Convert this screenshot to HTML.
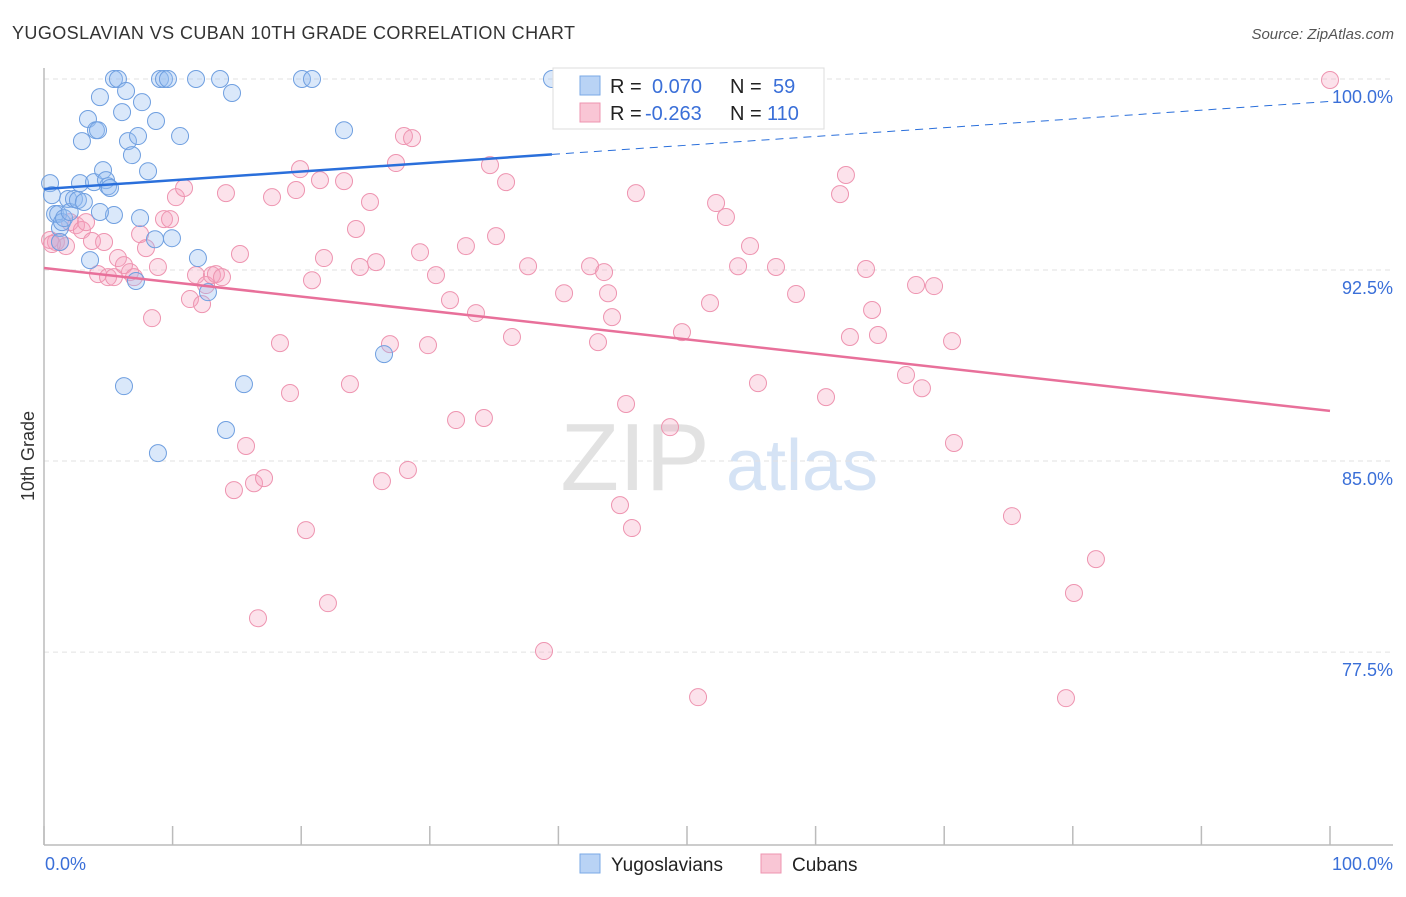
<!DOCTYPE html>
<html><head><meta charset="utf-8">
<style>
body{margin:0;background:#fff;font-family:"Liberation Sans",sans-serif;}
#wrap{position:relative;width:1406px;height:892px;}
svg text{font-family:"Liberation Sans",sans-serif;}
</style></head>
<body>
<div id="wrap">
<svg id="chart" width="1406" height="892">
<text x="12" y="39" font-size="18" fill="#333" textLength="563">YUGOSLAVIAN VS CUBAN 10TH GRADE CORRELATION CHART</text>
<text x="1394" y="39" font-size="15" fill="#555" text-anchor="end" font-style="italic">Source: ZipAtlas.com</text>
<text x="34" y="456" font-size="18" fill="#333" transform="rotate(-90 34 456)" text-anchor="middle">10th Grade</text>
<g>
<text x="635" y="490" font-size="96" fill="#e2e2e2" font-family="Liberation Serif" text-anchor="middle">ZIP</text>
<text x="802" y="490" font-size="72" fill="#d5e3f5" text-anchor="middle">atlas</text>
</g>
<g id="grid"></g>
<g id="axes"></g>
<g id="pts"></g>
<g id="lines"></g>
<g>
<rect x="553" y="68" width="271" height="61" fill="#fff" stroke="#ddd"/>
<rect x="580" y="76" width="20" height="19" fill="#b9d3f5" stroke="#7aa8e6"/>
<rect x="580" y="103" width="20" height="19" fill="#f9c6d5" stroke="#ee94b0"/>
<text x="610" y="93" font-size="20" fill="#222">R = </text><text x="652" y="93" font-size="20" fill="#3a6fd8">0.070</text>
<text x="730" y="93" font-size="20" fill="#222">N = </text><text x="773" y="93" font-size="20" fill="#3a6fd8">59</text>
<text x="610" y="120" font-size="20" fill="#222">R = </text><text x="645" y="120" font-size="20" fill="#3a6fd8">-0.263</text>
<text x="730" y="120" font-size="20" fill="#222">N = </text><text x="767" y="120" font-size="20" fill="#3a6fd8">110</text>
</g>
<g>
<rect x="580" y="854" width="20" height="19" fill="#b9d3f5" stroke="#7aa8e6"/>
<text x="611" y="871" font-size="19" fill="#222">Yugoslavians</text>
<rect x="761" y="854" width="20" height="19" fill="#f9c6d5" stroke="#ee94b0"/>
<text x="792" y="871" font-size="19" fill="#222">Cubans</text>
</g>
</svg>
</div>
<script>
const yTicks=[100,92.5,85,77.5];
const yTickLabels=["100.0%","92.5%","85.0%","77.5%"];
const xTickVals=[0,10,20,30,40,50,60,70,80,90,100];
const xEndLabels=["0.0%","100.0%"];
const yugoX=[0.47,0.62,0.86,1.1,1.24,1.4,1.56,1.87,2.0,2.33,2.64,2.8,3.1,2.95,3.42,3.58,3.89,4.04,4.2,4.35,4.59,4.82,4.98,5.13,5.44,5.44,5.75,6.07,6.22,6.38,6.53,6.84,7.31,7.47,7.62,8.09,8.63,8.71,8.86,9.02,9.33,9.64,9.95,10.58,11.82,11.97,12.75,13.69,14.15,14.62,15.55,20.06,20.84,23.33,26.44,39.5,7.15,4.35,1.24];
const yugoYRaw=[96.62,96.15,95.41,95.41,94.86,95.09,95.25,96.0,95.49,96.0,95.96,96.62,95.88,98.27,99.14,93.6,96.66,98.7,98.7,100,97.13,96.74,96.5,96.43,95.37,100.71,100.71,99.41,88.65,100.24,98.27,97.72,98.47,95.25,99.8,97.09,94.42,99.06,86.02,100.71,100.71,100.71,94.46,98.47,100.71,93.68,92.34,100.71,86.93,100.16,88.73,100.71,100.71,98.7,89.91,100.71,92.78,95.49,94.31];
const cubaX=[0.47,0.93,1.24,1.71,2.02,2.49,2.95,3.27,3.73,4.2,4.67,4.98,5.44,5.75,6.22,6.69,7.0,7.47,7.93,8.4,8.86,9.33,9.8,10.26,10.89,11.35,11.82,12.29,12.6,13.06,13.37,13.84,14.15,14.77,15.24,15.71,16.33,16.64,17.11,17.73,18.35,19.13,19.6,19.91,20.37,20.84,21.46,21.77,22.08,23.33,23.79,24.26,24.57,25.35,25.82,26.28,26.9,27.37,27.99,28.3,28.62,29.24,29.86,30.48,31.57,32.04,32.81,33.59,34.21,34.68,35.15,35.93,36.39,37.64,38.88,40.44,42.46,43.08,43.55,43.86,44.17,44.79,45.26,45.72,46.03,48.68,49.61,50.86,51.79,52.26,53.03,53.97,54.9,55.52,56.92,58.48,60.81,61.9,62.36,62.67,63.92,64.39,64.85,67.03,67.81,68.27,69.21,70.61,70.76,75.27,79.47,80.09,81.8,100,0.62];
const cubaYRaw=[94.39,94.31,94.31,94.15,95.09,94.97,94.78,95.09,94.35,93.05,94.31,92.93,92.93,93.68,93.4,93.13,92.93,94.62,94.07,91.32,93.33,95.21,95.21,96.07,96.43,92.07,93.01,91.87,92.62,93.01,93.05,92.93,96.23,84.57,93.84,86.3,84.84,79.54,85.04,96.07,90.34,88.38,96.35,97.17,83.0,92.81,96.74,93.68,80.13,96.7,88.73,94.82,93.33,95.88,93.52,84.92,90.3,97.41,98.47,85.36,98.39,93.91,90.26,93.01,92.03,87.32,94.15,91.52,87.4,97.33,94.54,96.66,90.58,93.36,78.25,92.3,93.36,90.38,93.13,92.3,91.36,83.98,87.95,83.08,96.23,87.04,90.77,76.44,91.91,95.84,95.29,93.36,94.15,88.77,93.33,92.27,88.22,96.19,96.94,90.58,93.25,91.64,90.66,89.09,92.62,88.57,92.58,90.42,86.42,83.55,76.4,80.53,81.86,100.67,94.23];
// readings were taken against label baselines; shift to gridline reference
const yugoY=yugoYRaw.map(v=>v-0.71);
const cubaY=cubaYRaw.map(v=>v-0.71);
const yugoTrend=[95.68,99.12]; // value at x=0 and x=100
const cubaTrend=[92.58,86.97];

const NS="http://www.w3.org/2000/svg";
const X0=44,X1=1330,Y100=79,PPU=25.47;
const xs=v=>X0+(X1-X0)*v/100;
const ys=v=>Y100+(100-v)*PPU;
function mk(tag,attrs,parent){const e=document.createElementNS(NS,tag);for(const k in attrs)e.setAttribute(k,attrs[k]);parent.appendChild(e);return e;}
const grid=document.getElementById('grid'),axes=document.getElementById('axes'),pts=document.getElementById('pts'),lines=document.getElementById('lines');
yTicks.forEach((t,i)=>{
 const l=mk('line',{x1:X0,x2:1393,y1:ys(t),y2:ys(t),stroke:'#e2e2e2','stroke-dasharray':'5,4'},grid);
 
 
 const tx=mk('text',{x:1393,y:ys(t)+24,'font-size':18,fill:'#3a6fd8','text-anchor':'end'},grid);
 tx.textContent=yTickLabels[i];
 
 
});
const ya=mk('line',{x1:X0,x2:X0,y1:68,y2:845,stroke:'#bbb','stroke-width':1.5},axes);


const xa=mk('line',{x1:X0,x2:1393,y1:845,y2:845,stroke:'#bbb','stroke-width':1.5},axes);


xTickVals.forEach(v=>{const t=mk('line',{x1:xs(v),x2:xs(v),y1:826,y2:845,stroke:'#bbb','stroke-width':1.5},axes);
 
 });
const l0=mk('text',{x:45,y:870,'font-size':18,fill:'#3a6fd8'},axes);l0.textContent=xEndLabels[0];


const l1=mk('text',{x:1393,y:870,'font-size':18,fill:'#3a6fd8','text-anchor':'end'},axes);l1.textContent=xEndLabels[1];


cubaX.forEach((x,i)=>{const c=mk('circle',{cx:xs(x),cy:ys(cubaY[i]),r:8.5,fill:'rgba(244,160,190,0.3)',stroke:'#ee94b0','stroke-width':1},pts);
 
 });
yugoX.forEach((x,i)=>{const c=mk('circle',{cx:xs(x),cy:ys(yugoY[i]),r:8.5,fill:'rgba(150,190,240,0.35)',stroke:'#6f9fe0','stroke-width':1},pts);
 
 });
const yAt=(tr,x)=>tr[0]+(tr[1]-tr[0])*x/100;
const b1=mk('line',{x1:xs(0),y1:ys(yAt(yugoTrend,0)),x2:xs(39.5),y2:ys(yAt(yugoTrend,39.5)),stroke:'#2a6fdb','stroke-width':2.5},lines);


const b2=mk('line',{x1:xs(39.5),y1:ys(yAt(yugoTrend,39.5)),x2:xs(100),y2:ys(yAt(yugoTrend,100)),stroke:'#2a6fdb','stroke-width':1,'stroke-dasharray':'8,6'},lines);


const p1=mk('line',{x1:xs(0),y1:ys(yAt(cubaTrend,0)),x2:xs(100),y2:ys(yAt(cubaTrend,100)),stroke:'#e8709a','stroke-width':2.5},lines);


</script>
</body></html>
